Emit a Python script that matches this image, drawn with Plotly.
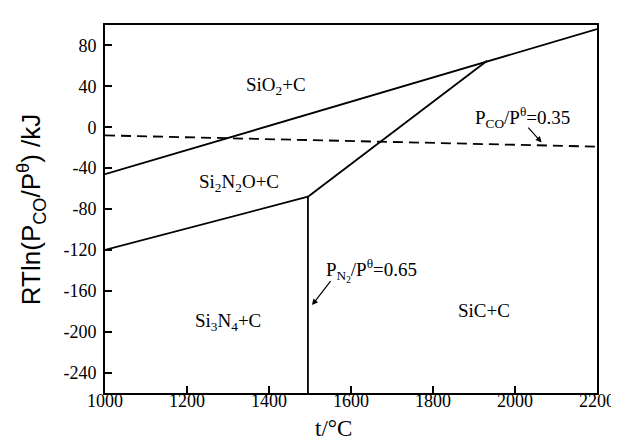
import plotly.graph_objects as go

# Data
sio2_x = [1000, 2200]
sio2_y = [-46, 96]
si2n2o_x = [1000, 1495]
si2n2o_y = [-120, -68]
mid_x = [1495, 1932]
mid_y = [-68, 65]
vert_x = [1495, 1495]
vert_y = [-68, -260]
co_x = [1000, 2200]
co_y = [-8, -19]

x_ticks = [1000, 1200, 1400, 1600, 1800, 2000, 2200]
y_ticks = [80, 40, 0, -40, -80, -120, -160, -200, -240]
y_ticktext = [str(v) for v in y_ticks]

region_labels = ["SiO<sub>2</sub>+C", "Si<sub>2</sub>N<sub>2</sub>O+C", "Si<sub>3</sub>N<sub>4</sub>+C", "SiC+C"]
region_x = [1418, 1328, 1301, 1925]
region_y = [40, -55, -191, -179]

SERIF = "Liberation Serif"
SANS = "Liberation Sans"

fig = go.Figure()
line = dict(color="black", width=1.8)
for xs, ys in [(sio2_x, sio2_y), (si2n2o_x, si2n2o_y), (mid_x, mid_y), (vert_x, vert_y)]:
    fig.add_trace(go.Scatter(x=xs, y=ys, mode="lines", line=line, showlegend=False, hoverinfo="skip"))
fig.add_trace(go.Scatter(x=co_x, y=co_y, mode="lines",
                         line=dict(color="black", width=1.8, dash="10px,6px"),
                         showlegend=False, hoverinfo="skip"))

annotations = []
for t, x, y in zip(region_labels, region_x, region_y):
    annotations.append(dict(x=x, y=y, text=t, showarrow=False,
                            font=dict(family=SERIF, size=19, color="black")))

# P_CO label with arrow
annotations.append(dict(x=2019, y=10, text="P<sub>CO</sub>/P<sup>θ</sup>=0.35", showarrow=False,
                        font=dict(family=SERIF, size=19, color="black")))
annotations.append(dict(x=2065, y=-15, ax=2029, ay=1, axref="x", ayref="y", text="",
                        showarrow=True, arrowhead=2, arrowsize=1, arrowwidth=1.2, arrowcolor="black"))
# P_N2 label with arrow
annotations.append(dict(x=1650, y=-140, text="P<sub>N<sub>2</sub></sub>/P<sup>θ</sup>=0.65", showarrow=False,
                        font=dict(family=SERIF, size=19, color="black")))
annotations.append(dict(x=1505, y=-174, ax=1553, ay=-149, axref="x", ayref="y", text="",
                        showarrow=True, arrowhead=2, arrowsize=1, arrowwidth=1.2, arrowcolor="black"))

# Axis titles
annotations.append(dict(xref="paper", yref="paper", x=-0.15, y=0.5, textangle=-90,
                        text="RTln(P<sub>CO</sub>/P<sup>θ</sup>) /kJ", showarrow=False,
                        xanchor="center", yanchor="middle",
                        font=dict(family=SANS, size=26, color="black")))
annotations.append(dict(xref="paper", yref="paper", x=0.4647, y=-0.058,
                        text="t/°C", showarrow=False, xanchor="center", yanchor="top",
                        font=dict(family=SERIF, size=23, color="black")))

fig.update_layout(
    width=619, height=444,
    margin=dict(l=97, r=25, t=17, b=59),
    paper_bgcolor="white", plot_bgcolor="white",
    font=dict(family=SERIF, size=18, color="black"),
    annotations=annotations,
    xaxis=dict(range=[1000, 2200], tickvals=x_ticks, ticktext=[str(v) for v in x_ticks],
               ticks="inside", ticklen=7, tickwidth=1.5, tickcolor="black",
               showline=True, linecolor="black", linewidth=2, mirror=True,
               showgrid=False, zeroline=False, ticklabelstandoff=-10,
               tickfont=dict(family="Liberation Serif, serif", size=18, color="black")),
    yaxis=dict(range=[-260, 100], tickvals=y_ticks, ticktext=y_ticktext,
               ticks="inside", ticklen=7, tickwidth=1.5, tickcolor="black",
               showline=True, linecolor="black", linewidth=2, mirror=True,
               showgrid=False, zeroline=False, ticklabelstandoff=3,
               tickfont=dict(family="Liberation Serif, serif", size=18, color="black")),
)

fig.write_html("out.html")
